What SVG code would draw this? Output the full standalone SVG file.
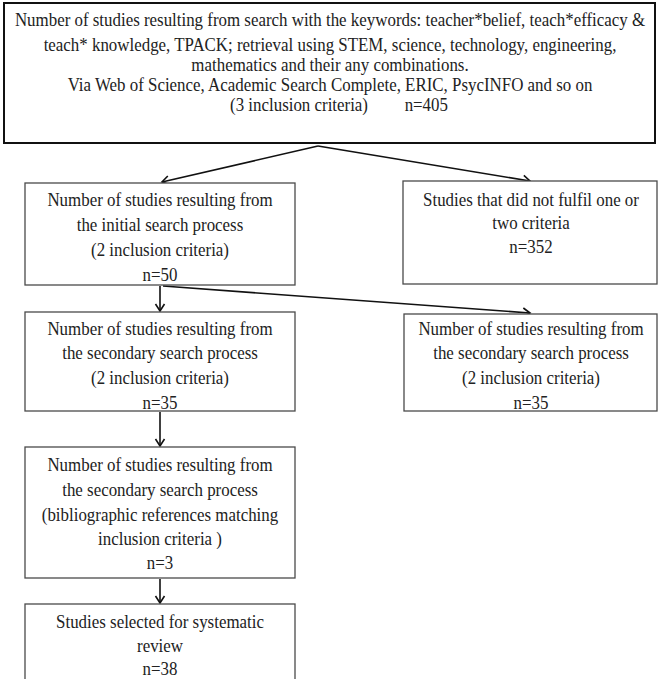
<svg xmlns="http://www.w3.org/2000/svg" width="659" height="679" viewBox="0 0 659 679">
<defs>
<style>
.bg{fill:#ffffff}
.box{fill:#ffffff;stroke:#4a4a4a;stroke-width:1.3}
.top{fill:#ffffff;stroke:#111111;stroke-width:2}
.t{font-family:"Liberation Serif","Times New Roman","DejaVu Serif",serif;font-size:19px;fill:#222222;text-anchor:middle}
.c{fill:none;stroke:#111111;stroke-width:1.6}
</style>
<marker id="ah" markerUnits="userSpaceOnUse" markerWidth="14" markerHeight="14" viewBox="-10 -7 14 14" refX="0" refY="0" orient="auto">
<path d="M-7,-4.5 L0,0 L-7,4.5" fill="none" stroke="#111111" stroke-width="1.6"/>
</marker>
</defs>
<rect class="bg" x="0" y="0" width="659" height="679"/>

<g id="connectors">
<line class="c" x1="318" y1="146" x2="162" y2="182" marker-end="url(#ah)"/>
<line class="c" x1="318" y1="146" x2="530" y2="181" marker-end="url(#ah)"/>
<line class="c" x1="160" y1="286" x2="160" y2="311" marker-end="url(#ah)"/>
<line class="c" x1="163" y1="286" x2="530" y2="313" marker-end="url(#ah)"/>
<line class="c" x1="160" y1="412" x2="160" y2="446" marker-end="url(#ah)"/>
<line class="c" x1="160" y1="579" x2="160" y2="603" marker-end="url(#ah)"/>
</g>

<g id="n_search">
<rect class="top" x="4" y="3" width="651" height="140"/>
<g transform="translate(330,0) scale(0.89,1)">
<text class="t" x="0" y="26">Number of studies resulting from search with the keywords: teacher*belief, teach*efficacy &amp;</text>
<text class="t" x="0" y="51">teach* knowledge, TPACK; retrieval using STEM, science, technology, engineering,</text>
<text class="t" x="0" y="71">mathematics and their any combinations.</text>
<text class="t" x="0" y="91">Via Web of Science, Academic Search Complete, ERIC, PsycINFO and so on</text>
</g>
<g transform="scale(0.89,1)">
<text class="t" x="336" y="111">(3 inclusion criteria)</text>
<text class="t" x="479" y="111">n=405</text>
</g>
</g>

<g id="n_initial">
<rect class="box" x="25" y="183" width="270" height="102"/>
<g transform="translate(160,0) scale(0.89,1)">
<text class="t" x="0" y="206">Number of studies resulting from</text>
<text class="t" x="0" y="231">the initial search process</text>
<text class="t" x="0" y="256">(2 inclusion criteria)</text>
<text class="t" x="0" y="281">n=50</text>
</g>
</g>

<g id="n_excluded">
<rect class="box" x="403" y="181" width="254" height="103"/>
<g transform="translate(531,0) scale(0.89,1)">
<text class="t" x="0" y="206">Studies that did not fulfil one or</text>
<text class="t" x="0" y="229">two criteria</text>
<text class="t" x="0" y="253">n=352</text>
</g>
</g>

<g id="n_secondary_left">
<rect class="box" x="25" y="312" width="270" height="99"/>
<g transform="translate(160,0) scale(0.89,1)">
<text class="t" x="0" y="335">Number of studies resulting from</text>
<text class="t" x="0" y="359">the secondary search process</text>
<text class="t" x="0" y="384">(2 inclusion criteria)</text>
<text class="t" x="0" y="409">n=35</text>
</g>
</g>

<g id="n_secondary_right">
<rect class="box" x="404" y="314" width="253" height="97"/>
<g transform="translate(531,0) scale(0.89,1)">
<text class="t" x="0" y="335">Number of studies resulting from</text>
<text class="t" x="0" y="359">the secondary search process</text>
<text class="t" x="0" y="384">(2 inclusion criteria)</text>
<text class="t" x="0" y="409">n=35</text>
</g>
</g>

<g id="n_bibliographic">
<rect class="box" x="25" y="447" width="270" height="131"/>
<g transform="translate(160,0) scale(0.89,1)">
<text class="t" x="0" y="471">Number of studies resulting from</text>
<text class="t" x="0" y="496">the secondary search process</text>
<text class="t" x="0" y="521">(bibliographic references matching</text>
<text class="t" x="0" y="545">inclusion criteria )</text>
<text class="t" x="0" y="569">n=3</text>
</g>
</g>

<g id="n_selected">
<rect class="box" x="25" y="604" width="270" height="80"/>
<g transform="translate(160,0) scale(0.89,1)">
<text class="t" x="0" y="628">Studies selected for systematic</text>
<text class="t" x="0" y="652">review</text>
<text class="t" x="0" y="675">n=38</text>
</g>
</g>
</svg>
